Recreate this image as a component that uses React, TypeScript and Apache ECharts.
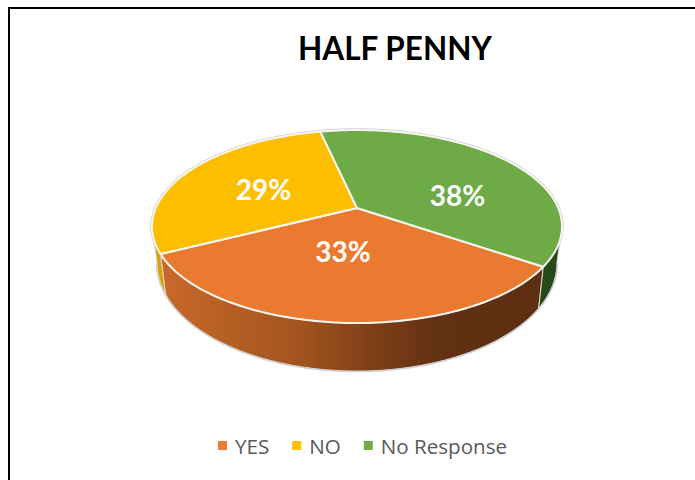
import React, { useEffect, useRef } from "react";
import * as echarts from "echarts";

const titleText = "HALF PENNY";
const categories = ["YES", "NO", "No Response"];
const values = [33, 29, 38];
const firstSliceAngle = 124.3;

const topColors = ["#E97A30", "#FDBE00", "#6EAB47"];
const legendColors = ["#ED7D31", "#FFC000", "#70AD47"];
const wallColors: any[] = [
  new echarts.graphic.LinearGradient(0, 0, 1, 0, [
    { offset: 0, color: "#C8692A" },
    { offset: 0.35, color: "#A4551F" },
    { offset: 0.72, color: "#623012" },
    { offset: 1, color: "#5E2E11" },
  ]),
  "#D9A300",
  "#264A17",
];
const labelAnchors = [
  [343, 251],
  [263.5, 189],
  [457.5, 195],
];

// perspective disc geometry
const CX = 357;
const TOP_Y = 208;
const BOTTOM_Y = 242.4;
const A = 201.2;
const B_TOP = 92.95;
const B_BOTTOM = 104;
const X_BOTTOM = 0.975;
const K = 0.1917;
const total = values.reduce((s, v) => s + v, 0);

function topPt(deg: number, r = 1): number[] {
  const t = (deg * Math.PI) / 180;
  const u = r * Math.sin(t);
  const v = -r * Math.cos(t);
  const w = 1 - K * v;
  return [CX + (A * u) / w, TOP_Y + (B_TOP * v) / w];
}
function bottomPt(deg: number): number[] {
  const t = (deg * Math.PI) / 180;
  const u = Math.sin(t);
  const v = -Math.cos(t);
  const w = 1 - K * v;
  return [CX + (X_BOTTOM * A * u) / w, BOTTOM_Y + (B_BOTTOM * v) / w];
}
function arc(fn: (d: number) => number[], a: number, b: number): number[][] {
  const n = Math.max(2, Math.ceil(Math.abs(b - a) / 1.5));
  const out: number[][] = [];
  for (let i = 0; i <= n; i++) out.push(fn(a + ((b - a) * i) / n));
  return out;
}

function clampWall(a: number, b: number): number[] | null {
  // visible front part of the wall lies between 101 and 259 degrees
  const lo = 101;
  const hi = 259;
  for (const shift of [0, -360, 360]) {
    const s = Math.max(a + shift, lo);
    const e = Math.min(b + shift, hi);
    if (e > s) return [s, e];
  }
  return null;
}

function makeRender(index: number) {
  return (_params: any, api: any) => {
    const value = api.value(0) as number;
    const before = api.value(1) as number;
    const start = firstSliceAngle + (before / total) * 360;
    const end = start + (value / total) * 360;
    const children: any[] = [];
    children.push({
      type: "polyline",
      shape: { points: arc((d) => topPt(d), start, end) },
      style: { fill: "none", stroke: "#D0D0D0", lineWidth: 3.4 },
    });
    const wall = clampWall(start, end);
    if (wall) {
      const topArc = arc((d) => topPt(d), wall[0], wall[1]);
      const botArc = arc(bottomPt, wall[0], wall[1]);
      children.push({
        type: "polyline",
        shape: { points: botArc },
        style: { fill: "none", stroke: "#D0D0D0", lineWidth: 2.6 },
      });
      children.push({
        type: "polygon",
        shape: { points: topArc.concat(botArc.slice().reverse()) },
        style: { fill: wallColors[index], stroke: "#D8D8D8", lineWidth: 1 },
      });
    }
    children.push({
      type: "polygon",
      shape: { points: [[CX, TOP_Y]].concat(arc((d) => topPt(d), start, end)) },
      style: { fill: topColors[index], stroke: "#F8F6F0", lineWidth: 2, lineJoin: "round" },
    });
    children.push({
      type: "text",
      z2: 50,
      x: labelAnchors[index][0],
      y: labelAnchors[index][1],
      style: {
        text: Math.round((value / total) * 100) + "%",
        fill: "#FFFFFF",
        font: "bold 28px Lato, 'Open Sans', sans-serif",
        align: "center",
        verticalAlign: "middle",
      },
    });
    return { type: "group", children };
  };
}

export default function App() {
  const ref = useRef<HTMLDivElement>(null);
  useEffect(() => {
    const chart = echarts.init(ref.current!, undefined, { renderer: "svg" });
    let running = 0;
    const series = categories.map((name, i) => {
      const item = [values[i], running];
      running += values[i];
      return {
        type: "custom",
        name,
        coordinateSystem: "none",
        itemStyle: { color: legendColors[i] },
        renderItem: makeRender(i),
        data: [item],
        silent: true,
      };
    });
    chart.setOption({
      animation: false,
      backgroundColor: "#FFFFFF",
      title: {
        text: titleText,
        left: 390,
        top: 27,
        textAlign: "center",
        textStyle: { fontFamily: "Lato, 'Open Sans', sans-serif", fontWeight: "bold", fontSize: 31.5, color: "#000000" },
      },
      legend: {
        data: categories,
        left: 218,
        top: 435,
        padding: 0,
        icon: "rect",
        itemWidth: 9,
        itemHeight: 9,
        itemGap: 23,
        textStyle: { fontFamily: "'Open Sans', sans-serif", fontSize: 20.6, color: "#595959", padding: [0, 0, 0, 3] },
      },
      graphic: [
        { type: "rect", shape: { x: 8, y: 7, width: 687, height: 2 }, style: { fill: "#000000" } },
        { type: "rect", shape: { x: 8, y: 7, width: 2, height: 473 }, style: { fill: "#000000" } },
      ],
      series,
    });
    return () => chart.dispose();
  }, []);
  return (
    <div style={{ position: "absolute", left: 0, top: 0, width: 695, height: 480, overflow: "hidden" }}>
      <div ref={ref} style={{ width: 695, height: 480 }} />
    </div>
  );
}
